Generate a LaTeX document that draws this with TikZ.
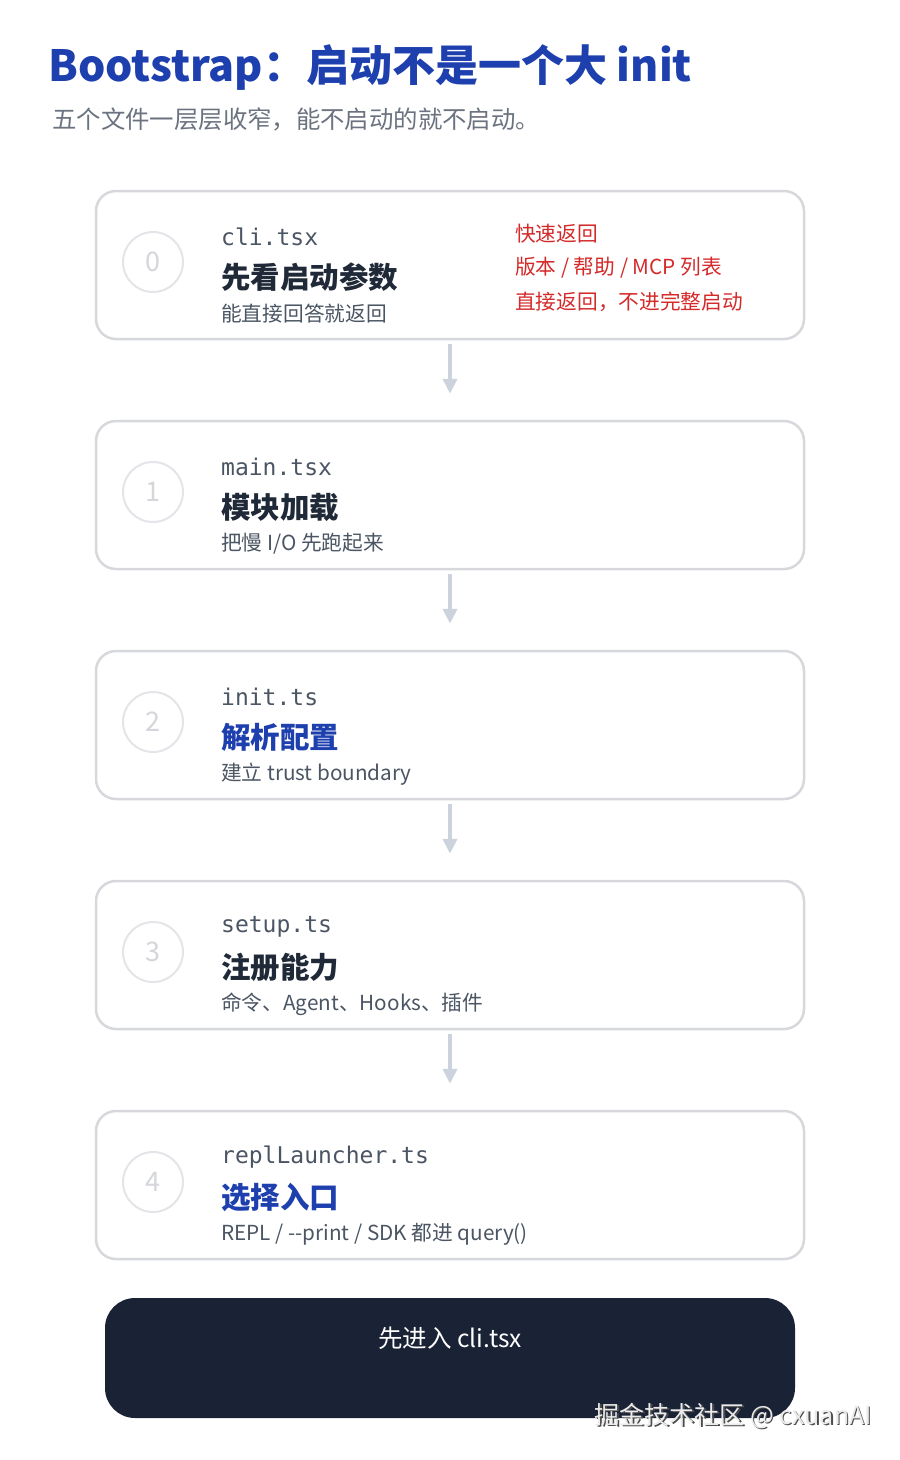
\documentclass[tikz,border=0pt]{standalone}
\usepackage{fontspec}
\setmainfont{Noto Sans CJK SC}
\setmonofont{DejaVu Sans Mono}
\usetikzlibrary{arrows.meta,positioning}

\definecolor{headblue}{HTML}{1E40AF}
\definecolor{leadgray}{HTML}{6B7280}
\definecolor{cardline}{HTML}{D6D8DC}
\definecolor{ringgray}{HTML}{E3E5E8}
\definecolor{numgray}{HTML}{D4D6DA}
\definecolor{filegray}{HTML}{4B5563}
\definecolor{titledark}{HTML}{1F2937}
\definecolor{notered}{HTML}{D42A2A}
\definecolor{flowgray}{HTML}{CDD3DC}
\definecolor{entrydark}{HTML}{1A2236}

\tikzset{
  card/.style={draw=cardline, line width=2.5pt, rounded corners=20pt,
    minimum width=708pt, minimum height=148pt, fill=white},
  numring/.style={circle, draw=ringgray, line width=2pt, minimum size=60pt,
    inner sep=0pt, text=numgray, font=\fontsize{27}{30}\selectfont},
  filename/.style={anchor=west, inner sep=0pt, text=filegray,
    font=\ttfamily\fontsize{23}{27}\selectfont},
  steptitle/.style={anchor=west, inner sep=0pt, text=#1,
    font=\bfseries\fontsize{29.5}{33}\selectfont},
  stepnote/.style={anchor=west, inner sep=0pt, text=filegray,
    font=\fontsize{20.7}{24}\selectfont},
  rednote/.style={anchor=west, inner sep=0pt, text=notered,
    font=\fontsize{20.7}{24}\selectfont},
  flow/.style={draw=flowgray, line width=4pt,
    -{Triangle[length=15pt,width=14pt]}},
}

% one file card: name, top y, number, file, title, note, title colour
\newcommand{\stepcard}[7]{%
  \node[card] (#1) at (450,#2+74) {};
  \node[numring] (#1-num) at (153,#2+71) {#3};
  \node[filename] (#1-file) at (221,#2+46) {#4};
  \node[steptitle=#7] (#1-title) at (221,#2+86) {#5};
  \node[stepnote] (#1-note) at (221,#2+123) {#6};
}

\begin{document}
\begin{tikzpicture}[x=1pt,y=-1pt]
  \useasboundingbox[fill=white] (0,0) rectangle (900,1460);

  \node[anchor=west, inner sep=0pt, text=headblue,
    font=\bfseries\fontsize{43}{50}\selectfont] (head) at (48,68)
    {Bootstrap：启动不是一个大 init};
  \node[anchor=west, inner sep=0pt, text=leadgray,
    font=\fontsize{24.4}{28}\selectfont] (lead) at (52,119)
    {五个文件一层层收窄，能不启动的就不启动。};

  \stepcard{c0}{191}{0}{cli.tsx}{先看启动参数}{能直接回答就返回}{titledark}
  \stepcard{c1}{421}{1}{main.tsx}{模块加载}{把慢 I/O 先跑起来}{titledark}
  \stepcard{c2}{651}{2}{init.ts}{解析配置}{建立 trust boundary}{headblue}
  \stepcard{c3}{881}{3}{setup.ts}{注册能力}{命令、Agent、Hooks、插件}{titledark}
  \stepcard{c4}{1111}{4}{replLauncher.ts}{选择入口}{REPL / -{}-print / SDK 都进 query()}{headblue}

  % fast path on the first card
  \node[rednote] (fast1) at (515,234) {快速返回};
  \node[rednote] (fast2) at (515,268) {版本 / 帮助 / MCP 列表};
  \node[rednote] (fast3) at (515,302) {直接返回，不进完整启动};

  \draw[flow] ([yshift=-4pt]c0.south) -- ([yshift=26pt]c1.north);
  \draw[flow] ([yshift=-4pt]c1.south) -- ([yshift=26pt]c2.north);
  \draw[flow] ([yshift=-4pt]c2.south) -- ([yshift=26pt]c3.north);
  \draw[flow] ([yshift=-4pt]c3.south) -- ([yshift=26pt]c4.north);

  \node[fill=entrydark, rounded corners=30pt, minimum width=690pt,
    minimum height=120pt] (entry) at (450,1358) {};
  \node[text=white, inner sep=0pt, font=\fontsize{24.5}{28}\selectfont]
    (entry-text) at (450,1338) {先进入 cli.tsx};

  \node[anchor=east, inner sep=0pt, text=black!70,
    font=\fontsize{25}{28}\selectfont] (mark-shadow) at (873.5,1417.5)
    {掘金技术社区 @ cxuanAI};
  \node[anchor=east, inner sep=0pt, text=white!92!black,
    font=\fontsize{25}{28}\selectfont] (mark) at (872,1416)
    {掘金技术社区 @ cxuanAI};
\end{tikzpicture}
\end{document}
